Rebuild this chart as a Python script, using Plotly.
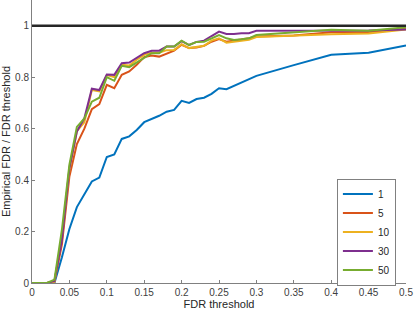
import plotly.graph_objects as go

x = [0, 0.01, 0.02, 0.03, 0.04, 0.05, 0.06, 0.07, 0.08, 0.09, 0.10,
     0.11, 0.12, 0.13, 0.14, 0.15, 0.16, 0.17, 0.18, 0.19, 0.20,
     0.21, 0.22, 0.23, 0.24, 0.25, 0.26, 0.27, 0.28, 0.29, 0.30,
     0.35, 0.40, 0.45, 0.50]

y1 = [0, 0, 0, 0, 0.10, 0.21, 0.295, 0.345, 0.395, 0.41, 0.49,
      0.50, 0.56, 0.57, 0.595, 0.625, 0.637, 0.65, 0.666, 0.673, 0.708,
      0.70, 0.715, 0.72, 0.735, 0.757, 0.753, 0.766, 0.782, 0.795, 0.805,
      0.847, 0.887, 0.895, 0.923]
y5 = [0, 0, 0, 0.005, 0.15, 0.414, 0.54, 0.60, 0.676, 0.695, 0.77,
      0.757, 0.809, 0.822, 0.848, 0.878, 0.884, 0.88, 0.89, 0.903, 0.926,
      0.913, 0.915, 0.922, 0.938, 0.948, 0.938, 0.942, 0.947, 0.951, 0.958,
      0.962, 0.975, 0.975, 0.988]
y10 = [0, 0, 0, 0.005, 0.18, 0.44, 0.59, 0.625, 0.75, 0.745, 0.808,
       0.80, 0.848, 0.845, 0.868, 0.887, 0.895, 0.895, 0.905, 0.906, 0.928,
       0.913, 0.919, 0.922, 0.942, 0.951, 0.934, 0.938, 0.942, 0.945, 0.956,
       0.962, 0.967, 0.97, 0.985]
y30 = [0, 0, 0, 0.008, 0.168, 0.447, 0.589, 0.64, 0.755, 0.75, 0.81,
       0.809, 0.854, 0.857, 0.876, 0.893, 0.903, 0.903, 0.919, 0.919, 0.94,
       0.925, 0.937, 0.942, 0.96, 0.977, 0.968, 0.968, 0.971, 0.971, 0.98,
       0.98, 0.981, 0.981, 0.985]
y50 = [0, 0, 0, 0.013, 0.207, 0.46, 0.607, 0.64, 0.705, 0.72, 0.80,
       0.786, 0.844, 0.839, 0.857, 0.878, 0.893, 0.893, 0.919, 0.919, 0.942,
       0.925, 0.937, 0.938, 0.951, 0.964, 0.951, 0.945, 0.947, 0.951, 0.964,
       0.975, 0.984, 0.98, 0.994]

names = ["1", "5", "10", "30", "50"]
series = [y1, y5, y10, y30, y50]
colors = ["#0072BD", "#D95319", "#EDB120", "#7E2F8E", "#77AC30"]

xticks = [0, 0.05, 0.1, 0.15, 0.2, 0.25, 0.3, 0.35, 0.4, 0.45, 0.5]
xticklabels = ["0", "0.05", "0.1", "0.15", "0.2", "0.25", "0.3", "0.35", "0.4", "0.45", "0.5"]
yticks = [0, 0.2, 0.4, 0.6, 0.8, 1]
yticklabels = ["0", "0.2", "0.4", "0.6", "0.8", "1"]

fig = go.Figure()
for nm, ys, c in zip(names, series, colors):
    fig.add_trace(go.Scatter(x=x, y=ys, mode="lines", name=nm,
                             line=dict(color=c, width=2)))

fig.add_shape(type="line", xref="paper", x0=0, x1=1, yref="y", y0=1, y1=1,
              line=dict(color="#262626", width=2.5))

axis_common = dict(showline=True, linecolor="#808080", linewidth=1,
                   ticks="inside", ticklen=3, tickcolor="#808080",
                   showgrid=False, zeroline=False, mirror=False,
                   automargin=False,
                   tickfont=dict(size=10, color="#404040"))

fig.update_layout(
    width=415, height=312,
    margin=dict(l=32, r=9, t=0, b=29),
    paper_bgcolor="white", plot_bgcolor="white",
    font=dict(family="Liberation Sans, Arial, sans-serif", color="#262626"),
    xaxis=dict(range=[0, 0.5], tickvals=xticks, ticktext=xticklabels,
               title=dict(text="FDR threshold", font=dict(size=11), standoff=0),
               **axis_common),
    yaxis=dict(range=[0, 1.1], tickvals=yticks, ticktext=yticklabels,
               title=dict(text="Empirical FDR / FDR threshold", font=dict(size=11), standoff=2),
               **axis_common),
    legend=dict(x=0.973, y=0.18, xanchor="right", yanchor="middle",
                bordercolor="#808080", borderwidth=1, bgcolor="white",
                font=dict(size=10, color="#262626"),
                itemwidth=30, tracegroupgap=0),
    showlegend=True,
)

fig.write_html("out.html", config={"displayModeBar": False},
               post_script="document.body.style.margin='0';document.body.style.padding='0';")
